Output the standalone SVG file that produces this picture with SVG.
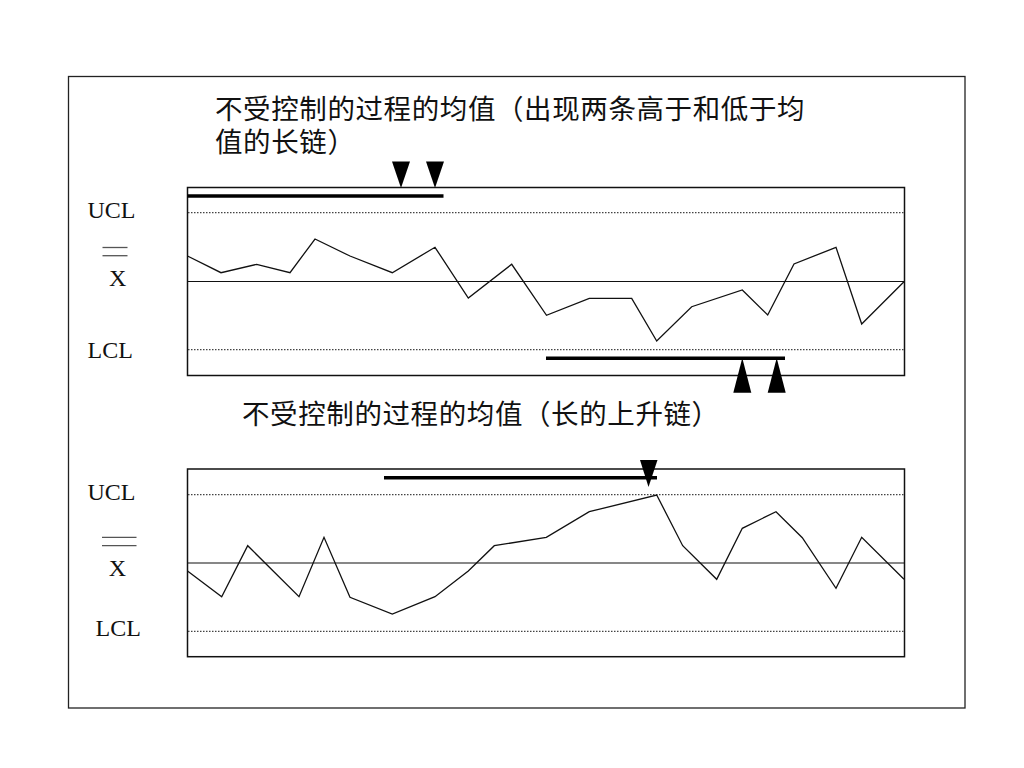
<svg xmlns="http://www.w3.org/2000/svg" width="1024" height="768" viewBox="0 0 1024 768">
<style>
.frame{fill:none;stroke:#222;stroke-width:1.3}
.box{fill:#fff;stroke:#111;stroke-width:1.5}
.lim{stroke:#444;stroke-width:1.2;stroke-dasharray:1.5 1.5}
.mid{stroke:#111;stroke-width:1.2}
.data{fill:none;stroke:#111;stroke-width:1.3;stroke-linejoin:miter}
.run{stroke:#000;stroke-width:3.5}
.tri{fill:#000}
.bar{stroke:#555;stroke-width:1.3}
.lab{font-family:"Liberation Serif","Times New Roman",serif;font-size:24px;fill:#111}
.cjk{font-family:"Noto Sans CJK SC","Noto Sans CJK JP",sans-serif;font-size:27.5px;letter-spacing:0.6px;fill:#111}
</style>
<rect width="1024" height="768" fill="#fff"/>
<rect class="frame" x="68.5" y="76.5" width="896.5" height="631.5"/>

<g id="title-top">
<text class="cjk"><tspan x="215" y="119">不受控制的过程的均值（出现两条高于和低于均</tspan><tspan x="215" y="151.5">值的长链）</tspan></text>
</g>

<g id="chart-top">
<rect class="box" x="187.5" y="187.5" width="717" height="188"/>
<line class="lim" x1="188" y1="212.7" x2="904" y2="212.7"/>
<line class="mid" x1="188" y1="281.5" x2="904" y2="281.5"/>
<line class="lim" x1="188" y1="349.7" x2="904" y2="349.7"/>
<polyline class="data" points="187.5,256 221,272.7 256.7,264.3 290,272.7 315,239 350,256 392.3,272.7 435,247.3 468.3,298 511.7,264.3 546.5,315.3 589.3,298.3 631.7,298.3 656.7,341 691.7,306.7 742.3,290 767.7,315 794,264 836,247.3 861.7,324 904,281.7"/>
<text class="lab" x="87.5" y="218">UCL</text>
<line class="bar" x1="102.5" y1="247.5" x2="127.5" y2="247.5"/>
<line class="bar" x1="102.5" y1="255.7" x2="127.5" y2="255.7"/>
<text class="lab" x="117.7" y="285.7" text-anchor="middle">X</text>
<text class="lab" x="87.5" y="358.3">LCL</text>
</g>

<g id="run-top-above">
<line class="run" x1="187.5" y1="196" x2="443.5" y2="196"/>
<polygon class="tri" points="392,161.5 410,161.5 401,188"/>
<polygon class="tri" points="426,161.5 444,161.5 435,188"/>
</g>

<g id="run-top-below">
<line class="run" x1="546" y1="358.3" x2="785" y2="358.3"/>
<polygon class="tri" points="742.3,358 733.3,392.7 751.3,392.7"/>
<polygon class="tri" points="776.7,358 767.7,392.7 785.7,392.7"/>
</g>

<g id="title-bottom">
<text class="cjk" x="242" y="424">不受控制的过程的均值（长的上升链）</text>
</g>

<g id="chart-bottom">
<rect class="box" x="187.5" y="469" width="717" height="187.7"/>
<line class="lim" x1="188" y1="494.7" x2="904" y2="494.7"/>
<line class="mid" x1="188" y1="563" x2="904" y2="563"/>
<line class="lim" x1="188" y1="631.3" x2="904" y2="631.3"/>
<polyline class="data" points="187.5,571 221.7,596.7 247.7,545.7 299,596.7 324,537.3 350,597.3 392.3,614 435,596.7 468.3,571 494.3,545.7 546.3,537.3 589.3,511.7 656.7,495 682.7,545.7 716.7,579.3 742.3,528.3 776,511.7 802.3,537.7 836,588.3 861.7,537.3 904,579.3"/>
<text class="lab" x="87.5" y="500">UCL</text>
<line class="bar" x1="102" y1="537.3" x2="136.5" y2="537.3"/>
<line class="bar" x1="102" y1="545.7" x2="136.5" y2="545.7"/>
<text class="lab" x="117.5" y="576" text-anchor="middle">X</text>
<text class="lab" x="95.5" y="636">LCL</text>
</g>

<g id="run-bottom">
<line class="run" x1="384" y1="477.7" x2="657" y2="477.7"/>
<polygon class="tri" points="640,460 657.5,460 648.5,487"/>
</g>
</svg>
